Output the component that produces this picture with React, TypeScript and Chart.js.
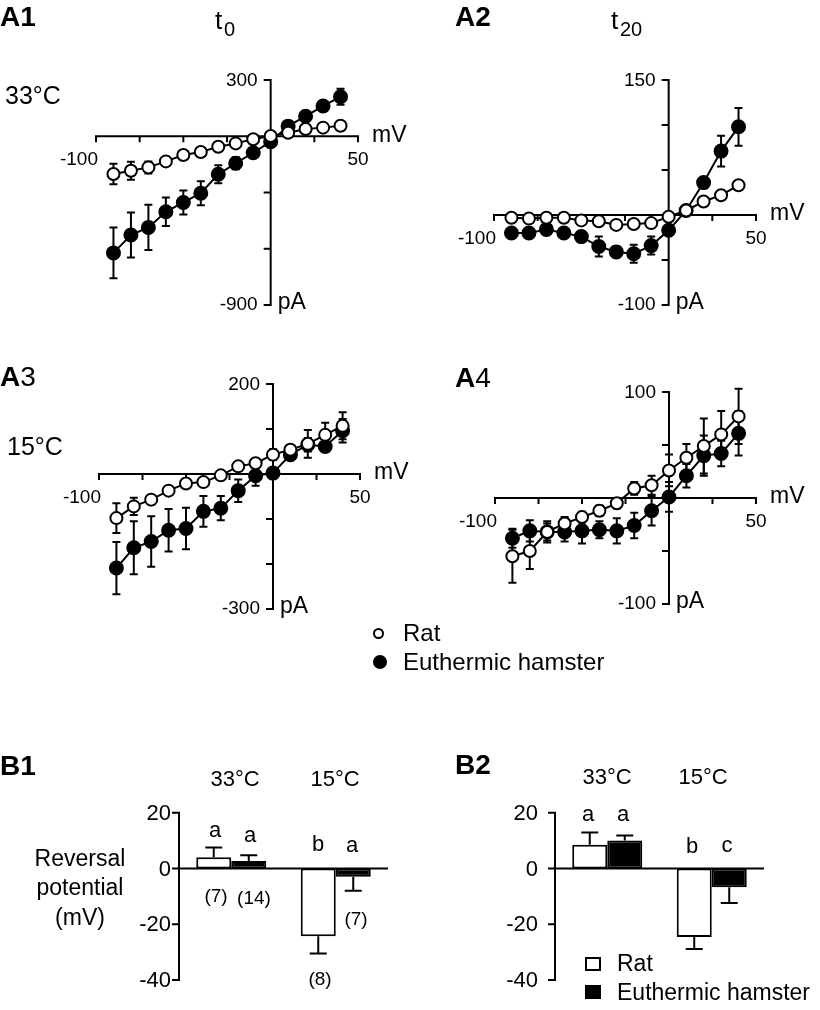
import React, { useEffect, useRef } from "react";
import { Chart, registerables } from "chart.js";

Chart.register(...registerables);

const W = 820;
const H = 1010;
const FONT = "'Liberation Sans', Arial, Helvetica, sans-serif";

// ---------- I-V curves (membrane potential in mV, current in pA) ----------
const voltages = [-90, -80, -70, -60, -50, -40, -30, -20, -10, 0, 10, 20, 30, 40];
const ivXTicks = [-100, -75, -50, -25, 0, 25, 50];

// A1: 33°C, t0
const a1Rat = [-201, -184, -166, -134, -100, -84, -56, -38, -16, 1, 19, 39, 46, 56];
const a1RatErr = [55, 48, 32, 12, 10, 10, 8, 8, 6, 6, 6, 8, 8, 10];
const a1Ham = [-622, -527, -486, -403, -353, -304, -203, -144, -88, -29, 54, 107, 161, 211];
const a1HamErr = [135, 120, 121, 76, 64, 64, 48, 32, 15, 15, 12, 15, 18, 43];
const a1YTicks = [300, 0, -300, -600, -900];

// A2: 33°C, t20
const a2Rat = [-3, -4, -3, -3, -6, -7, -11, -10, -9, -2, 5, 15, 22, 33];
const a2RatErr = [2, 2, 2, 2, 2, 2, 3, 3, 3, 2, 2, 3, 3, 4];
const a2Ham = [-20, -20, -16, -20, -24, -35, -41, -43, -34, -17, 5, 36, 71, 98];
const a2HamErr = [4, 3, 3, 3, 3, 11, 6, 10, 10, 4, 3, 5, 17, 21];
const a2YTicks = [150, 100, 50, 0, -50, -100];

// A3: 15°C, t0
const a3Rat = [-98, -72, -57, -37, -21, -18, -3, 17, 24, 43, 54, 67, 87, 107];
const a3RatErr = [33, 19, 10, 6, 5, 5, 5, 6, 8, 12, 10, 31, 27, 30];
const a3Ham = [-209, -164, -150, -125, -121, -83, -76, -37, -4, 2, 43, 65, 61, 96];
const a3HamErr = [58, 59, 56, 47, 46, 34, 27, 25, 22, 8, 12, 15, 10, 26];
const a3YTicks = [200, 100, 0, -100, -200, -300];

// A4: 15°C, t20
const a4Rat = [-55, -50, -32, -24, -18, -12, -5, 9, 12, 26, 38, 49, 60, 77];
const a4RatErr = [25, 17, 10, 6, 5, 5, 5, 6, 9, 15, 13, 26, 22, 26];
const a4Ham = [-38, -31, -32, -32, -31, -30, -31, -26, -12, 1, 21, 40, 42, 61];
const a4HamErr = [9, 10, 8, 9, 12, 8, 12, 12, 14, 14, 11, 19, 12, 21];
const a4YTicks = [100, 50, 0, -50, -100];

// ---------- Reversal potentials (mV) ----------
const temps = ["33°C", "15°C"];
const bYTicks = [20, 0, -20, -40];
const b1Rat = [4.0, -24.3];
const b1RatErr = [3.5, 6.2];
const b1Ham = [2.7, -3.0];
const b1HamErr = [2.0, 5.0];
const b2Rat = [8.5, -24.6];
const b2RatErr = [4.4, 4.3];
const b2Ham = [10.0, -6.7];
const b2HamErr = [1.8, 5.7];

// ---------- layout (page pixels) ----------
type Box = { left: number; right: number; top: number; bottom: number };
const boxA1: Box = { left: 96, right: 358, top: 80, bottom: 305 };
const boxA2: Box = { left: 494, right: 756, top: 80, bottom: 305 };
const boxA3: Box = { left: 99, right: 360, top: 384, bottom: 609 };
const boxA4: Box = { left: 495, right: 756, top: 392, bottom: 604 };
const boxB1: Box = { left: 179, right: 388, top: 812.7, bottom: 980 };
const boxB2: Box = { left: 555, right: 764, top: 812.7, bottom: 980 };

function padOf(b: Box) {
  return { left: b.left, right: W - b.right, top: b.top, bottom: H - b.bottom };
}

function ivPlugin(yTicks: number[]) {
  return {
    id: "ivAxes",
    beforeDatasetsDraw(chart: any) {
      const ctx = chart.ctx;
      const xs = chart.scales.x;
      const ys = chart.scales.y;
      const x0 = xs.getPixelForValue(0);
      const y0 = ys.getPixelForValue(0);
      const xL = xs.getPixelForValue(xs.min);
      const xR = xs.getPixelForValue(xs.max);
      const yT = ys.getPixelForValue(ys.max);
      const yB = ys.getPixelForValue(ys.min);
      ctx.save();
      ctx.strokeStyle = "#000";
      ctx.lineWidth = 2;
      ctx.beginPath();
      ctx.moveTo(xL - 1, y0);
      ctx.lineTo(xR + 1, y0);
      ctx.moveTo(x0, yT - 1);
      ctx.lineTo(x0, yB + 1);
      ivXTicks.forEach((t) => {
        const px = xs.getPixelForValue(t);
        ctx.moveTo(px, y0);
        ctx.lineTo(px, y0 + 6);
      });
      yTicks.forEach((t) => {
        const py = ys.getPixelForValue(t);
        ctx.moveTo(x0, py);
        ctx.lineTo(x0 - 7, py);
      });
      ctx.stroke();

      // error bars
      chart.data.datasets.forEach((ds: any, i: number) => {
        const meta = chart.getDatasetMeta(i);
        meta.data.forEach((pt: any, j: number) => {
          const v = ds.data[j].y;
          const e = ds.errors[j];
          const yHi = ys.getPixelForValue(v + e);
          const yLo = ys.getPixelForValue(v - e);
          ctx.beginPath();
          ctx.moveTo(pt.x, yHi);
          ctx.lineTo(pt.x, yLo);
          ctx.moveTo(pt.x - 4, yHi);
          ctx.lineTo(pt.x + 4, yHi);
          ctx.moveTo(pt.x - 4, yLo);
          ctx.lineTo(pt.x + 4, yLo);
          ctx.stroke();
        });
      });

      ctx.fillStyle = "#000";
      ctx.font = `19px ${FONT}`;
      ctx.textBaseline = "middle";
      ctx.textAlign = "right";
      ctx.fillText(String(ys.max), x0 - 13, yT + 1);
      ctx.fillText(String(ys.min), x0 - 13, yB);
      ctx.fillText(String(ivXTicks[0]), xL + 2, y0 + 24);
      ctx.textAlign = "center";
      ctx.fillText(String(ivXTicks[ivXTicks.length - 1]), xR, y0 + 24);
      ctx.font = `23px ${FONT}`;
      ctx.textAlign = "left";
      ctx.fillText("mV", xR + 14, y0 - 1);
      ctx.fillText("pA", x0 + 7, yB - 2);
      ctx.restore();
    },
  };
}

function ivConfig(
  box: Box,
  rat: number[],
  ratErr: number[],
  ham: number[],
  hamErr: number[],
  yTicks: number[]
) {
  const common = {
    borderColor: "#000",
    borderWidth: 2,
    pointBorderColor: "#000",
    pointBorderWidth: 2,
    tension: 0,
    clip: false,
  };
  return {
    type: "line",
    data: {
      datasets: [
        {
          ...common,
          label: "Rat",
          data: voltages.map((v, i) => ({ x: v, y: rat[i] })),
          errors: ratErr,
          pointRadius: 6,
          pointBackgroundColor: "#fff",
        },
        {
          ...common,
          label: "Euthermic hamster",
          data: voltages.map((v, i) => ({ x: v, y: ham[i] })),
          errors: hamErr,
          pointRadius: 6.5,
          pointBackgroundColor: "#000",
        },
      ],
    },
    options: {
      responsive: false,
      animation: false,
      events: [],
      layout: { padding: padOf(box) },
      scales: {
        x: { type: "linear", min: ivXTicks[0], max: ivXTicks[ivXTicks.length - 1], display: false },
        y: { type: "linear", min: yTicks[yTicks.length - 1], max: yTicks[0], display: false },
      },
      plugins: { legend: { display: false }, tooltip: { enabled: false } },
    },
    plugins: [ivPlugin(yTicks)],
  };
}

function barPlugin(labelGap: number) {
  return {
    id: "barAxes",
    afterDatasetsDraw(chart: any) {
      const ctx = chart.ctx;
      const ys = chart.scales.y;
      const area = chart.chartArea;
      const x0 = area.left;
      const y0 = ys.getPixelForValue(0);
      ctx.save();
      ctx.strokeStyle = "#000";
      ctx.lineWidth = 2;
      // error bars (one-sided)
      chart.data.datasets.forEach((ds: any, i: number) => {
        const meta = chart.getDatasetMeta(i);
        meta.data.forEach((bar: any, j: number) => {
          const v = ds.data[j];
          const e = ds.errors[j];
          const yEnd = ys.getPixelForValue(v + (v >= 0 ? e : -e));
          const yStart = ys.getPixelForValue(v);
          ctx.beginPath();
          ctx.moveTo(bar.x, yStart);
          ctx.lineTo(bar.x, yEnd);
          ctx.moveTo(bar.x - 8.5, yEnd);
          ctx.lineTo(bar.x + 8.5, yEnd);
          ctx.stroke();
        });
      });
      const yT = ys.getPixelForValue(ys.max);
      const yB = ys.getPixelForValue(ys.min);
      ctx.beginPath();
      ctx.moveTo(x0, yT - 1);
      ctx.lineTo(x0, yB + 1);
      ctx.moveTo(x0, y0);
      ctx.lineTo(area.right, y0);
      bYTicks.forEach((t) => {
        const py = ys.getPixelForValue(t);
        ctx.moveTo(x0, py);
        ctx.lineTo(x0 - 7, py);
      });
      ctx.stroke();
      ctx.fillStyle = "#000";
      ctx.font = `22px ${FONT}`;
      ctx.textBaseline = "middle";
      ctx.textAlign = "right";
      bYTicks.forEach((t) => {
        ctx.fillText(String(t), x0 - labelGap, ys.getPixelForValue(t) + 1);
      });
      ctx.restore();
    },
  };
}

function barConfig(box: Box, rat: number[], ratErr: number[], ham: number[], hamErr: number[], labelGap: number) {
  const common = {
    borderColor: "#000",
    borderWidth: 2,
    borderSkipped: false,
    categoryPercentage: 0.67,
    barPercentage: 1.0,
  };
  return {
    type: "bar",
    data: {
      labels: temps,
      datasets: [
        { ...common, label: "Rat", data: rat, errors: ratErr, backgroundColor: "#fff" },
        { ...common, label: "Euthermic hamster", data: ham, errors: hamErr, backgroundColor: "#000" },
      ],
    },
    options: {
      responsive: false,
      animation: false,
      events: [],
      layout: { padding: padOf(box) },
      scales: {
        x: { display: false },
        y: { min: bYTicks[bYTicks.length - 1], max: bYTicks[0], display: false },
      },
      plugins: { legend: { display: false }, tooltip: { enabled: false } },
    },
    plugins: [barPlugin(labelGap)],
  };
}

function ChartCanvas({ make }: { make: () => any }) {
  const ref = useRef<HTMLCanvasElement>(null);
  useEffect(() => {
    const chart = new Chart(ref.current as HTMLCanvasElement, make());
    return () => chart.destroy();
  }, []);
  return (
    <canvas
      ref={ref}
      width={W}
      height={H}
      style={{ position: "absolute", left: 0, top: 0, width: W, height: H }}
    />
  );
}

function T({
  x,
  y,
  s,
  children,
  align = "left",
  bold = false,
}: {
  x: number;
  y: number;
  s: number;
  children: any;
  align?: "left" | "center" | "right";
  bold?: boolean;
}) {
  const tx = align === "center" ? "-50%" : align === "right" ? "-100%" : "0";
  return (
    <div
      style={{
        position: "absolute",
        left: x,
        top: y,
        fontSize: s,
        fontFamily: FONT,
        fontWeight: bold ? 700 : 400,
        lineHeight: 1,
        whiteSpace: "nowrap",
        color: "#000",
        transform: `translate(${tx}, -50%)`,
      }}
    >
      {children}
    </div>
  );
}

export default function App() {
  return (
    <div
      style={{
        position: "absolute",
        left: 0,
        top: 0,
        width: W,
        height: H,
        background: "#fff",
        overflow: "hidden",
      }}
    >
      <ChartCanvas make={() => ivConfig(boxA1, a1Rat, a1RatErr, a1Ham, a1HamErr, a1YTicks)} />
      <ChartCanvas make={() => ivConfig(boxA2, a2Rat, a2RatErr, a2Ham, a2HamErr, a2YTicks)} />
      <ChartCanvas make={() => ivConfig(boxA3, a3Rat, a3RatErr, a3Ham, a3HamErr, a3YTicks)} />
      <ChartCanvas make={() => ivConfig(boxA4, a4Rat, a4RatErr, a4Ham, a4HamErr, a4YTicks)} />
      <ChartCanvas make={() => barConfig(boxB1, b1Rat, b1RatErr, b1Ham, b1HamErr, 8)} />
      <ChartCanvas make={() => barConfig(boxB2, b2Rat, b2RatErr, b2Ham, b2HamErr, 17)} />

      {/* Panel labels */}
      <T x={0} y={17} s={28} bold>A1</T>
      <T x={455} y={17} s={28} bold>A2</T>
      <T x={0} y={377} s={28}><b>A</b>3</T>
      <T x={455} y={378} s={28}><b>A</b>4</T>
      <T x={0} y={766} s={28} bold>B1</T>
      <T x={455} y={765} s={28} bold>B2</T>

      {/* time labels */}
      <T x={215} y={20} s={26}>t</T>
      <T x={224} y={29} s={20}>0</T>
      <T x={611} y={20} s={26}>t</T>
      <T x={620} y={29} s={20}>20</T>

      {/* temperature rows */}
      <T x={5} y={95} s={25}>33°C</T>
      <T x={7} y={446} s={25}>15°C</T>

      {/* legend A */}
      <div
        style={{
          position: "absolute",
          left: 372.5,
          top: 627.5,
          width: 11,
          height: 11,
          borderRadius: "50%",
          border: "2px solid #000",
          boxSizing: "border-box",
          background: "#fff",
        }}
      />
      <div
        style={{
          position: "absolute",
          left: 373,
          top: 655,
          width: 14,
          height: 14,
          borderRadius: "50%",
          background: "#000",
        }}
      />
      <T x={403} y={633} s={24}>Rat</T>
      <T x={403} y={662} s={24}>Euthermic hamster</T>

      {/* B1 annotations */}
      <T x={80} y={858} s={23} align="center">Reversal</T>
      <T x={80} y={887} s={23} align="center">potential</T>
      <T x={80} y={917} s={23} align="center">(mV)</T>
      <T x={235} y={779} s={22} align="center">33°C</T>
      <T x={335} y={779} s={22} align="center">15°C</T>
      <T x={215} y={830} s={22} align="center">a</T>
      <T x={250} y={835} s={22} align="center">a</T>
      <T x={318} y={844} s={22} align="center">b</T>
      <T x={352} y={845} s={22} align="center">a</T>
      <T x={216} y={895} s={19} align="center">(7)</T>
      <T x={254} y={897} s={19} align="center">(14)</T>
      <T x={320} y={978} s={19} align="center">(8)</T>
      <T x={356} y={918} s={19} align="center">(7)</T>

      {/* B2 annotations */}
      <T x={607} y={777} s={22} align="center">33°C</T>
      <T x={703} y={777} s={22} align="center">15°C</T>
      <T x={588} y={814} s={22} align="center">a</T>
      <T x={623} y={814} s={22} align="center">a</T>
      <T x={692} y={846} s={22} align="center">b</T>
      <T x={727} y={845} s={22} align="center">c</T>

      {/* legend B */}
      <div
        style={{
          position: "absolute",
          left: 585,
          top: 957,
          width: 16,
          height: 14,
          border: "2px solid #000",
          boxSizing: "border-box",
          background: "#fff",
        }}
      />
      <div
        style={{
          position: "absolute",
          left: 585,
          top: 985,
          width: 16,
          height: 14,
          background: "#000",
        }}
      />
      <T x={617} y={963} s={23}>Rat</T>
      <T x={617} y={992} s={23}>Euthermic hamster</T>
    </div>
  );
}
